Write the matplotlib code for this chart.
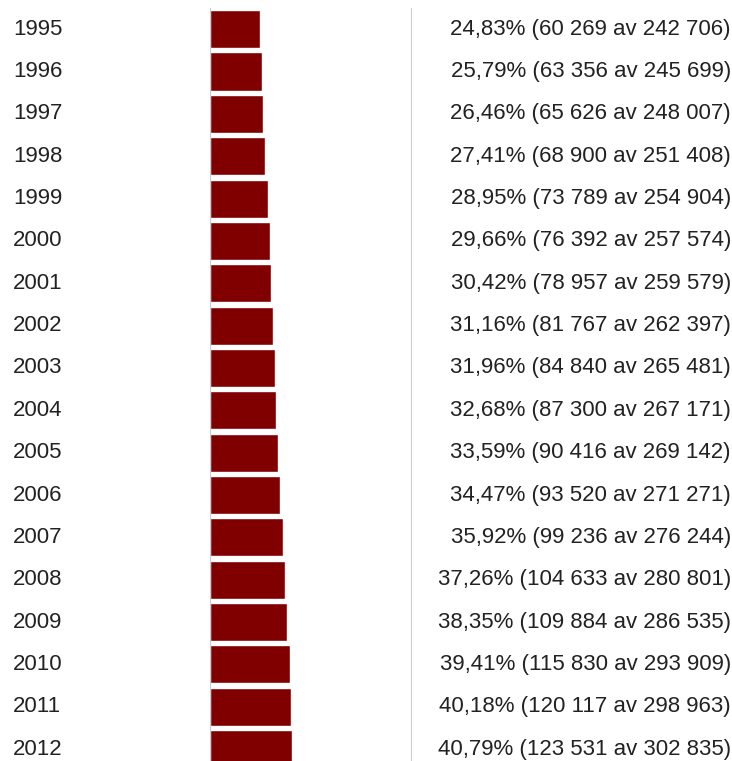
import matplotlib

matplotlib.use("Agg")
import matplotlib.pyplot as plt
from matplotlib.transforms import blended_transform_factory

# ---------------------------------------------------------------------------
# Data
# ---------------------------------------------------------------------------

years = [1995, 1996, 1997, 1998, 1999, 2000, 2001, 2002, 2003,
         2004, 2005, 2006, 2007, 2008, 2009, 2010, 2011, 2012]
share_pct = [24.83, 25.79, 26.46, 27.41, 28.95, 29.66, 30.42, 31.16, 31.96,
             32.68, 33.59, 34.47, 35.92, 37.26, 38.35, 39.41, 40.18, 40.79]
count = [60269, 63356, 65626, 68900, 73789, 76392, 78957, 81767, 84840,
         87300, 90416, 93520, 99236, 104633, 109884, 115830, 120117, 123531]
total = [242706, 245699, 248007, 251408, 254904, 257574, 259579, 262397, 265481,
         267171, 269142, 271271, 276244, 280801, 286535, 293909, 298963, 302835]


def sv_int(n):
    return f"{n:,}".replace(",", " ")


def sv_label(p, c, t):
    return f"{p:.2f}".replace(".", ",") + f"% ({sv_int(c)} av {sv_int(t)})"


# ---------------------------------------------------------------------------
# Plot
# ---------------------------------------------------------------------------

W, H = 732, 761
fig = plt.figure(figsize=(W / 100, H / 100), dpi=100)
ax = fig.add_axes([210 / W, 0, 202 / W, 1 - 8 / H])

idx = list(range(len(years)))
ax.barh(idx, share_pct, height=0.9, color="#800000", edgecolor="white",
        linewidth=1.0, zorder=2)

ax.set_xlim(0, 100)
ax.set_ylim(17.28, -0.5)
ax.axvline(0, color="#cccccc", linewidth=1.5, zorder=3)
ax.axvline(100, color="#cccccc", linewidth=1.5, zorder=3)
for s in ax.spines.values():
    s.set_visible(False)
ax.set_xticks([])
ax.set_yticks([])

trans = blended_transform_factory(fig.transFigure, ax.transData)
font = dict(family=["Liberation Sans", "DejaVu Sans"], fontsize=16, color="#222222")
for i, y in enumerate(years):
    ax.text(13 / W, i, str(y), transform=trans, ha="left", va="center",
            clip_on=False, **font)
    ax.text(731 / W, i, sv_label(share_pct[i], count[i], total[i]),
            transform=trans, ha="right", va="center", clip_on=False, **font)

fig.savefig("out.png", dpi=100)
